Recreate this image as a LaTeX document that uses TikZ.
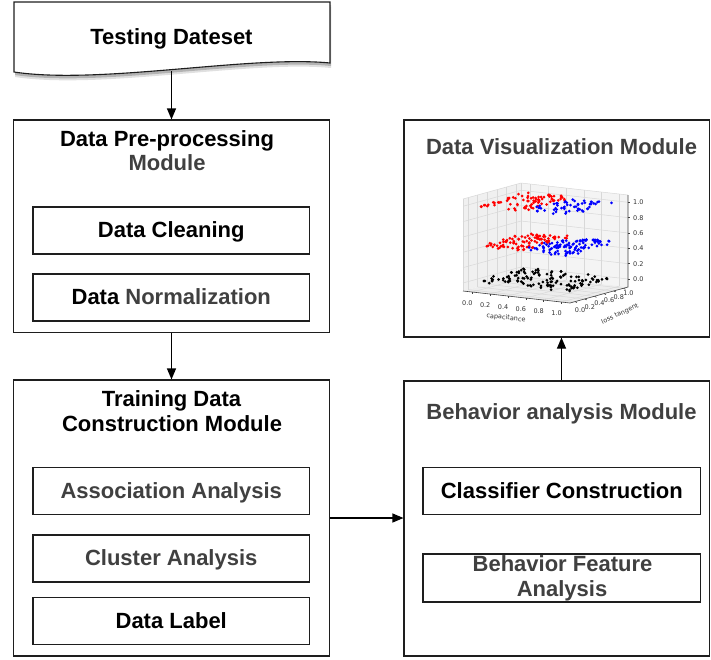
\documentclass[tikz,border=0pt]{standalone}
\usepackage{fontspec}
\setmainfont{Liberation Sans}
\newfontfamily\plotfont{DejaVu Sans}
\usetikzlibrary{arrows.meta,calc}
\definecolor{greytext}{HTML}{404040}
\definecolor{boxline}{HTML}{1E1E1E}
\definecolor{paneA}{HTML}{F0F0F0}
\definecolor{paneB}{HTML}{F4F4F4}
\definecolor{paneC}{HTML}{EDEDED}
\definecolor{gridc}{HTML}{D8D8D8}
\newcommand\myBig{\fontsize{22}{25}\selectfont\bfseries}
\newcommand\myTick{\plotfont\fontsize{6.5}{7.5}\selectfont}
\begin{document}
\begin{tikzpicture}[x=1pt,y=-1pt,
  box/.style={draw=boxline, line width=1.1pt, inner sep=0pt},
  inbox/.style={draw=boxline, line width=1.1pt, minimum width=276.5pt, minimum height=47pt,
     inner sep=0pt, text height=14pt, text depth=0pt, font=\myBig},
  ttl/.style={anchor=base, font=\myBig, inner sep=0pt},
  arr/.style={draw=black, line width=1.1pt, -{Triangle[length=11pt,width=9pt]}},
  gridl/.style={draw=gridc, line width=0.5pt},
  axl/.style={draw=black!75, line width=0.6pt},
  tick/.style={font=\myTick, text=black!80, inner sep=0pt},
  dotr/.style={fill=red},
  dotb/.style={fill=blue},
  dotk/.style={fill=black}]
\useasboundingbox (0,0) rectangle (711,659);

% ---------- Testing Dateset (document shape) ----------
\fill[black, opacity=0.12, shift={(1,5)}] (14,2) -- (330,2) -- (330,63) .. controls (250,55) and (100,85) .. (14,72) -- cycle;
\fill[black, opacity=0.2, shift={(1,3)}] (14,2) -- (330,2) -- (330,63) .. controls (250,55) and (100,85) .. (14,72) -- cycle;
\filldraw[fill=white, draw=boxline, line width=1.1pt] (14,2) -- (330,2) -- (330,63) .. controls (250,55) and (100,85) .. (14,72) -- cycle;
\node[ttl] (doc) at (171.5,44) {Testing Dateset};
\coordinate (docb) at (171.5,71);

% ---------- Data Pre-processing Module ----------
\node[box, minimum width=316pt, minimum height=212.5pt] (pre) at (171.5,226.25) {};
\node[ttl] (pret1) at (167,146) {Data Pre-processing};
\node[ttl, text=greytext] (pret2) at (167,170.5) {Module};
\node[inbox] (clean) at (171.25,230.5) {Data Cleaning};
\node[inbox] (norm) at (171.25,297.5) {Data \textcolor{greytext}{Normalization}};

% ---------- Training Data Construction Module ----------
\node[box, minimum width=316pt, minimum height=276pt] (train) at (171.5,518) {};
\node[ttl] (trt1) at (171.5,406.5) {Training Data};
\node[ttl] (trt2) at (172,431.5) {Construction Module};
\node[inbox, text=greytext] (assoc) at (171.25,491) {Association Analysis};
\node[inbox, text=greytext] (clus) at (171.25,558.5) {Cluster Analysis};
\node[inbox] (dlabel) at (171.25,621) {Data Label};

% ---------- Behavior analysis Module ----------
\node[box, minimum width=305.5pt, minimum height=275pt] (beh) at (556.75,518.5) {};
\node[ttl, text=greytext] (behttl) at (561.5,419) {Behavior analysis Module};
\node[inbox, minimum width=277.7pt] (cls) at (561.85,491) {Classifier Construction};
\node[box, minimum width=277.7pt, minimum height=48pt] (feat) at (561.85,578) {};
\node[ttl, text=greytext] (feat1) at (562.5,571.7) {Behavior Feature};
\node[ttl, text=greytext] (feat2) at (562,596.7) {Analysis};

% ---------- Data Visualization Module ----------
\node[box, minimum width=305.5pt, minimum height=217pt] (vis) at (556.75,228.5) {};
\node[ttl, text=greytext] (visttl) at (561.5,154.3) {Data Visualization Module};

% 3D scatter plot
\begin{scope}[shift={(463,291)}, x={(107pt,-12pt)}, y={(58pt,16pt)}, z={(0pt,92pt)}]
  \fill[paneA] (0,0,0) -- (0,1,0) -- (0,1,1) -- (0,0,1) -- cycle;
  \fill[paneB] (0,1,0) -- (1,1,0) -- (1,1,1) -- (0,1,1) -- cycle;
  \fill[paneC] (0,0,0) -- (1,0,0) -- (1,1,0) -- (0,1,0) -- cycle;
  \foreach \g in {0.087,0.254,0.421,0.587,0.754,0.921} {
    \draw[gridl] (0,\g,0) -- (0,\g,1);
    \draw[gridl] (0,0,\g) -- (0,1,\g);
    \draw[gridl] (\g,1,0) -- (\g,1,1);
    \draw[gridl] (0,1,\g) -- (1,1,\g);
    \draw[gridl] (\g,0,0) -- (\g,1,0);
    \draw[gridl] (0,\g,0) -- (1,\g,0);
  }
  \draw[gridl] (0,0,1) -- (0,1,1) -- (1,1,1);
  \draw[gridl] (0,0,0) -- (0,0,1);
  \draw[gridl] (0,1,0) -- (0,1,1);
  \draw[axl] (0,0,0) -- (1,0,0) -- (1,1,0) -- (1,1,1);
  \foreach \g/\t/\dy in {0.087/0.0/-8.5,0.254/0.2/-7.8,0.421/0.4/-7.1,0.587/0.6/-6.4,0.754/0.8/-5.7,0.921/1.0/-5} {
    \draw[axl] (\g,0,0) -- ++(0pt,-2pt);
    \node[tick] at ([xshift=-5pt,yshift=-11pt]\g,0,0) {\t};
    \draw[axl] (1,\g,0) -- ++(2pt,-1pt);
    \node[tick] at ([xshift=5pt,yshift=\dy pt]1,\g,0) {\t};
    \draw[axl] (1,1,\g) -- ++(2pt,0pt);
    \node[tick, anchor=west] at ([xshift=5pt]1,1,\g) {\t};
  }
  \pgfmathsetseed{17}
  % bottom layer
  \foreach \i in {1,...,130} {
    \pgfmathsetmacro\a{0.087+0.833*rnd}
    \pgfmathsetmacro\b{0.087+0.833*rnd}
    \pgfmathsetmacro\c{0.087+0.03*rnd}
    \fill[dotk] (\a,\b,\c) circle (1.5pt);
  }
  % middle layer
  \foreach \i in {1,...,95} {
    \pgfmathsetmacro\a{0.087+0.833*0.5*rnd}
    \pgfmathsetmacro\b{0.087+0.833*rnd}
    \pgfmathsetmacro\c{0.475+0.03*rnd}
    \fill[dotr] (\a,\b,\c) circle (1.5pt);
  }
  \foreach \i in {1,...,105} {
    \pgfmathsetmacro\a{0.087+0.833*(0.5+0.5*rnd)}
    \pgfmathsetmacro\b{0.087+0.833*rnd}
    \pgfmathsetmacro\c{0.475+0.03*rnd}
    \fill[dotb] (\a,\b,\c) circle (1.5pt);
  }
  % top layer
  \foreach \i in {1,...,80} {
    \pgfmathsetmacro\a{0.087+0.833*0.5*rnd}
    \pgfmathsetmacro\b{0.087+0.833*rnd}
    \pgfmathsetmacro\c{0.905+0.03*rnd}
    \fill[dotr] (\a,\b,\c) circle (1.5pt);
  }
  \foreach \i in {1,...,55} {
    \pgfmathsetmacro\a{0.087+0.833*(0.5+0.5*rnd)}
    \pgfmathsetmacro\b{0.087+0.833*rnd}
    \pgfmathsetmacro\c{0.905+0.03*rnd}
    \fill[dotb] (\a,\b,\c) circle (1.5pt);
  }
\end{scope}
\node[font=\myTick, text=black!80, rotate=-6] (capl) at (506,318) {capacitance};
\node[font=\myTick, text=black!80, rotate=25] (lossl) at (620,314) {loss tangent};

% ---------- connectors ----------
\draw[arr] (docb) -- (pre.north);
\draw[arr] (pre.south) -- (train.north);
\draw[arr] (train.east) -- (train.east -| beh.west);
\draw[arr] (beh.north -| visttl) -- (vis.south -| visttl);
\end{tikzpicture}
\end{document}
